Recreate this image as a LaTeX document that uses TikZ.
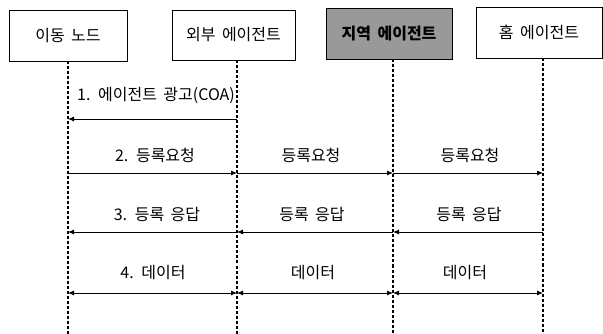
\documentclass[tikz,border=0pt]{standalone}
\usepackage{fontspec}
\setmainfont[WordSpace=1.8]{Noto Sans CJK KR}
\usetikzlibrary{arrows.meta}
\begin{document}
\begin{tikzpicture}[x=1pt,y=-1pt,
  actor/.style={draw, line width=0.9pt, inner sep=0pt, font=\fontsize{16}{18}\selectfont},
  life/.style={line width=1.1pt, dash pattern=on 3pt off 2pt},
  msg/.style={line width=0.9pt, -{Latex[length=6pt,width=5pt]}},
  bimsg/.style={line width=0.9pt, {Latex[length=6pt,width=5pt]}-{Latex[length=6pt,width=5pt]}},
  lbl/.style={inner sep=0pt, font=\fontsize{16}{18}\selectfont}]
\useasboundingbox (0,0) rectangle (603,334);
% actors
\node[actor, minimum width=118pt, minimum height=51pt] (mn) at (68,35.5) {이동 노드};
\node[actor, minimum width=123pt, minimum height=50pt] (fa) at (233.5,35) {외부 에이전트};
\node[actor, fill=black!40, minimum width=126pt, minimum height=51pt] (la) at (389,33.5) {\bfseries 지역 에이전트};
\node[actor, minimum width=126pt, minimum height=51pt] (ha) at (539,32.5) {홈 에이전트};
% lifeline ends
\coordinate (l1) at (68,61);
\coordinate (l2) at (237,60.5);
\coordinate (l3) at (393,59.5);
\coordinate (l4) at (543,58.5);
\coordinate (b1) at (68,334);
\coordinate (b2) at (237,334);
\coordinate (b3) at (393,334);
\coordinate (b4) at (543,334);
\draw[life] (l1) -- (b1);
\draw[life] (l2) -- (b2);
\draw[life] (l3) -- (b3);
\draw[life] (l4) -- (b4);
% rows
\coordinate (r1) at (0,119);
\coordinate (r2) at (0,173);
\coordinate (r3) at (0,232);
\coordinate (r4) at (0,293);
% messages
\draw[msg] (l2 |- r1) -- (l1 |- r1);
\draw[msg] (l1 |- r2) -- (l2 |- r2);
\draw[msg] (l2 |- r2) -- (l3 |- r2);
\draw[msg] (l3 |- r2) -- (l4 |- r2);
\draw[msg] (l2 |- r3) -- (l1 |- r3);
\draw[msg] (l3 |- r3) -- (l2 |- r3);
\draw[msg] (l4 |- r3) -- (l3 |- r3);
\draw[bimsg] (l1 |- r4) -- (l2 |- r4);
\draw[bimsg] (l2 |- r4) -- (l3 |- r4);
\draw[bimsg] (l3 |- r4) -- (l4 |- r4);
% labels
\node[lbl] (t1) at (156,95) {1. 에이전트 광고(COA)};
\node[lbl] (t21) at (155,155) {2. 등록요청};
\node[lbl] (t22) at (311,155) {등록요청};
\node[lbl] (t23) at (470,155) {등록요청};
\node[lbl] (t31) at (157,215) {3. 등록 응답};
\node[lbl] (t32) at (312,215) {등록 응답};
\node[lbl] (t33) at (469,215) {등록 응답};
\node[lbl] (t41) at (153,273) {4. 데이터};
\node[lbl] (t42) at (313,273) {데이터};
\node[lbl] (t43) at (465,273) {데이터};
\end{tikzpicture}
\end{document}
